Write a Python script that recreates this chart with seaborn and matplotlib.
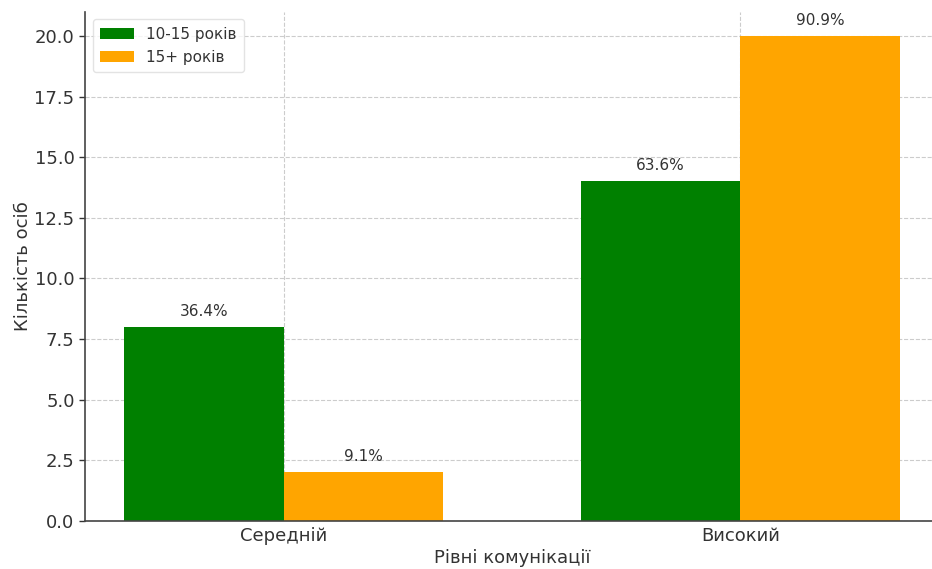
import matplotlib
matplotlib.use("Agg")
import matplotlib.pyplot as plt
import seaborn as sns
import pandas as pd

# Data
levels = ["Середній", "Високий"]
groups = ["10-15 років", "15+ років"]
counts_10_15 = [8, 14]
counts_15_plus = [2, 20]
pct_10_15 = ["36.4%", "63.6%"]
pct_15_plus = ["9.1%", "90.9%"]
palette = {"10-15 років": "#008000", "15+ років": "#FFA500"}

df = pd.DataFrame({
    "level": levels * 2,
    "group": [groups[0]] * len(levels) + [groups[1]] * len(levels),
    "count": counts_10_15 + counts_15_plus,
})
labels = pct_10_15 + pct_15_plus

sns.set_theme(style="white")
text_color = "#333333"
plt.rcParams["font.family"] = ["DejaVu Sans"]

W, H = 932, 569
fig = plt.figure(figsize=(W / 100, H / 100), dpi=100)
left, bottom, top, right = 85, 48, 11.7, 939
ax = fig.add_axes([left / W, bottom / H, (right - left) / W, (H - bottom - top) / H])

sns.barplot(data=df, x="level", y="count", hue="group", hue_order=groups,
            order=levels, palette=palette, width=0.7, gap=0,
            saturation=1, errorbar=None, linewidth=0, ax=ax)

ax.set_ylim(0, 21)
ax.set_xlim(-0.435, 1.435)
ax.set_yticks([0, 2.5, 5, 7.5, 10, 12.5, 15, 17.5, 20])
ax.set_yticklabels([f"{v:.1f}" for v in ax.get_yticks()])

ax.grid(True, linestyle="--", color="#cccccc", linewidth=0.8)
ax.set_axisbelow(True)
sns.despine(ax=ax, top=True, right=True)
for s in ("left", "bottom"):
    ax.spines[s].set_color("#444444")
    ax.spines[s].set_linewidth(1.2)

ax.tick_params(axis="both", labelsize=13, colors=text_color, length=4, width=1,
               left=True, bottom=False)
ax.tick_params(axis="x", pad=0)
ax.set_xlabel("Рівні комунікації", fontsize=13, color=text_color, labelpad=3)
ax.set_ylabel("Кількість осіб", fontsize=13, color=text_color, labelpad=2)

# Percent labels above bars
for patch, lab in zip(ax.patches, labels):
    ax.annotate(lab, (patch.get_x() + patch.get_width() / 2, patch.get_height()),
                xytext=(0, 6), textcoords="offset points",
                ha="center", va="bottom", fontsize=11, color=text_color)

leg = ax.legend(loc="upper left", fontsize=11, frameon=True,
                handlelength=2.2, borderpad=0.5, labelspacing=0.5)
leg.get_frame().set_edgecolor("#dddddd")
for t in leg.get_texts():
    t.set_color(text_color)

fig.savefig("out.png", dpi=100)
